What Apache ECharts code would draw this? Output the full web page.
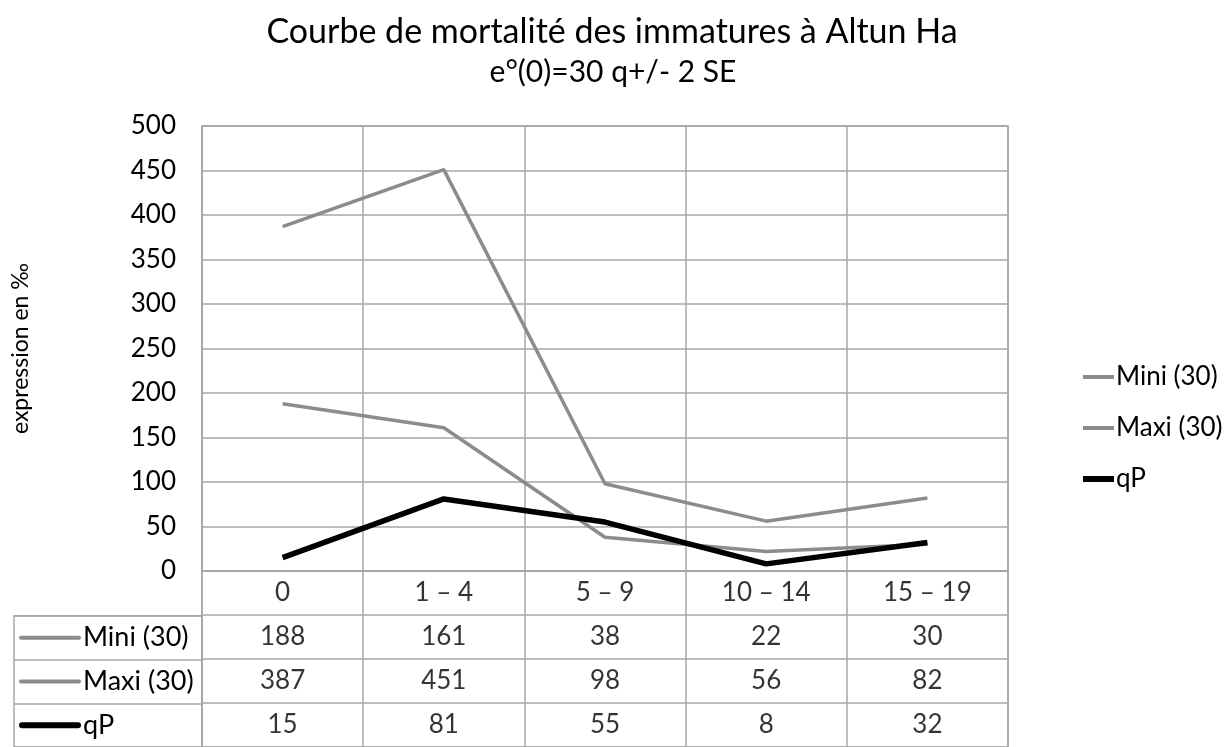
<!DOCTYPE html>
<html><head><meta charset="utf-8">
<script src="https://cdn.jsdelivr.net/npm/echarts@6/dist/echarts.min.js"></script>
<style>html,body{margin:0;padding:0;background:#fff}#c{width:1232px;height:747px}</style>
</head><body><div id="c"></div>
<script>
const categories = ['0', '1 – 4', '5 – 9', '10 – 14', '15 – 19'];
const seriesNames = ['Mini (30)', 'Maxi (30)', 'qP'];
const mini = [188, 161, 38, 22, 30];
const maxi = [387, 451, 98, 56, 82];
const qP = [15, 81, 55, 8, 32];
const yTicks = [0, 50, 100, 150, 200, 250, 300, 350, 400, 450, 500];

const FONT = 'Lato';
const GRAY = '#8c8c8c';
const GRID = '#a6a6a6';
const values = [mini, maxi, qP];
const colors = [GRAY, GRAY, '#000000'];
const widths = [3.5, 3.5, 5.5];

const tableData = [];
categories.forEach((c) => tableData.push({ value: [c, 'hdr'], label: { formatter: c } }));
values.forEach((arr, s) => arr.forEach((v, i) => tableData.push({ value: [categories[i], seriesNames[s]], label: { formatter: String(v) } })));

const chart = echarts.init(document.getElementById('c'));
chart.setOption({
  animation: false,
  textStyle: { fontFamily: FONT, color: '#000' },
  title: [
    { text: 'Courbe de mortalité des immatures à Altun Ha', left: 607, textAlign: 'center', top: 10,
      textStyle: { fontFamily: FONT, fontSize: 34, fontWeight: 'normal', color: '#000' } },
    { text: 'e°(0)=30 q+/- 2 SE', left: 608, textAlign: 'center', top: 52,
      textStyle: { fontFamily: FONT, fontSize: 30, fontWeight: 'normal', color: '#000' } }
  ],
  legend: {
    orient: 'vertical', left: 1080, top: 364, padding: 0, itemGap: 25, itemWidth: 31, itemHeight: 14,
    itemStyle: { opacity: 0 },
    data: seriesNames.map((n, s) => ({ name: n, lineStyle: { width: s === 2 ? 6 : 4, color: colors[s] } })),
    textStyle: { fontFamily: FONT, fontSize: 26, color: '#000', padding: [0, 0, 0, -3] }
  },
  grid: [
    { left: 202, width: 806, top: 126, height: 445, show: true, borderColor: GRID, borderWidth: 1.5 },
    { left: 14, width: 188, top: 615.75, height: 134.25, show: true, borderColor: GRID, borderWidth: 1.5 },
    { left: 202, width: 806, top: 571, height: 179, show: true, borderColor: GRID, borderWidth: 1.5 }
  ],
  xAxis: [
    { gridIndex: 0, type: 'category', data: categories, boundaryGap: true,
      axisLine: { show: true, lineStyle: { color: GRID, width: 1.5 } }, axisTick: { show: false }, axisLabel: { show: false },
      splitLine: { show: true, lineStyle: { color: GRID, width: 1.5 } } },
    { gridIndex: 1, type: 'category', data: ['lbl'], show: false },
    { gridIndex: 2, type: 'category', data: categories, boundaryGap: true,
      axisLine: { show: false }, axisTick: { show: false }, axisLabel: { show: false },
      splitLine: { show: true, lineStyle: { color: GRID, width: 1.5 } } }
  ],
  yAxis: [
    { gridIndex: 0, type: 'value', min: 0, max: 500, interval: 50,
      name: 'expression en ‰', nameLocation: 'middle', nameGap: 170, nameRotate: 90,
      nameTextStyle: { fontFamily: FONT, fontSize: 23, color: '#000' },
      axisLine: { show: true, lineStyle: { color: GRID, width: 1.5 } }, axisTick: { show: false },
      axisLabel: { fontFamily: FONT, fontSize: 26, color: '#000', margin: 26 },
      splitLine: { show: true, lineStyle: { color: GRID, width: 1.5 } } },
    { gridIndex: 1, type: 'category', data: seriesNames, inverse: true,
      axisLine: { show: false }, axisTick: { show: false },
      splitLine: { show: true, lineStyle: { color: GRID, width: 1.5 } },
      axisLabel: { inside: true, margin: 5, fontFamily: FONT, fontSize: 27, color: '#000',
        formatter: (v) => (v === 'qP' ? '{b|}' : '{g|}') + '{t|' + v + '}',
        rich: {
          g: { width: 62, height: 4, backgroundColor: GRAY, borderRadius: 2 },
          b: { width: 62, height: 6, backgroundColor: '#000', borderRadius: 3 },
          t: { fontFamily: FONT, fontSize: 27, color: '#000', padding: [0, 0, 0, 2] }
        } } },
    { gridIndex: 2, type: 'category', data: ['hdr'].concat(seriesNames), inverse: true,
      axisLine: { show: false }, axisTick: { show: false }, axisLabel: { show: false },
      splitLine: { show: true, lineStyle: { color: GRID, width: 1.5 } } }
  ],
  series: seriesNames.map((n, s) => ({
    name: n, type: 'line', xAxisIndex: 0, yAxisIndex: 0, data: values[s],
    symbol: 'none', showSymbol: false, lineStyle: { color: colors[s], width: widths[s] },
    itemStyle: { color: colors[s] }, z: s === 2 ? 5 : 3
  })).concat([{
    type: 'scatter', xAxisIndex: 2, yAxisIndex: 2, data: tableData, symbolSize: 0, silent: true,
    label: { show: true, position: 'inside', fontFamily: FONT, fontSize: 26, color: '#000' }
  }])
});
</script></body></html>
